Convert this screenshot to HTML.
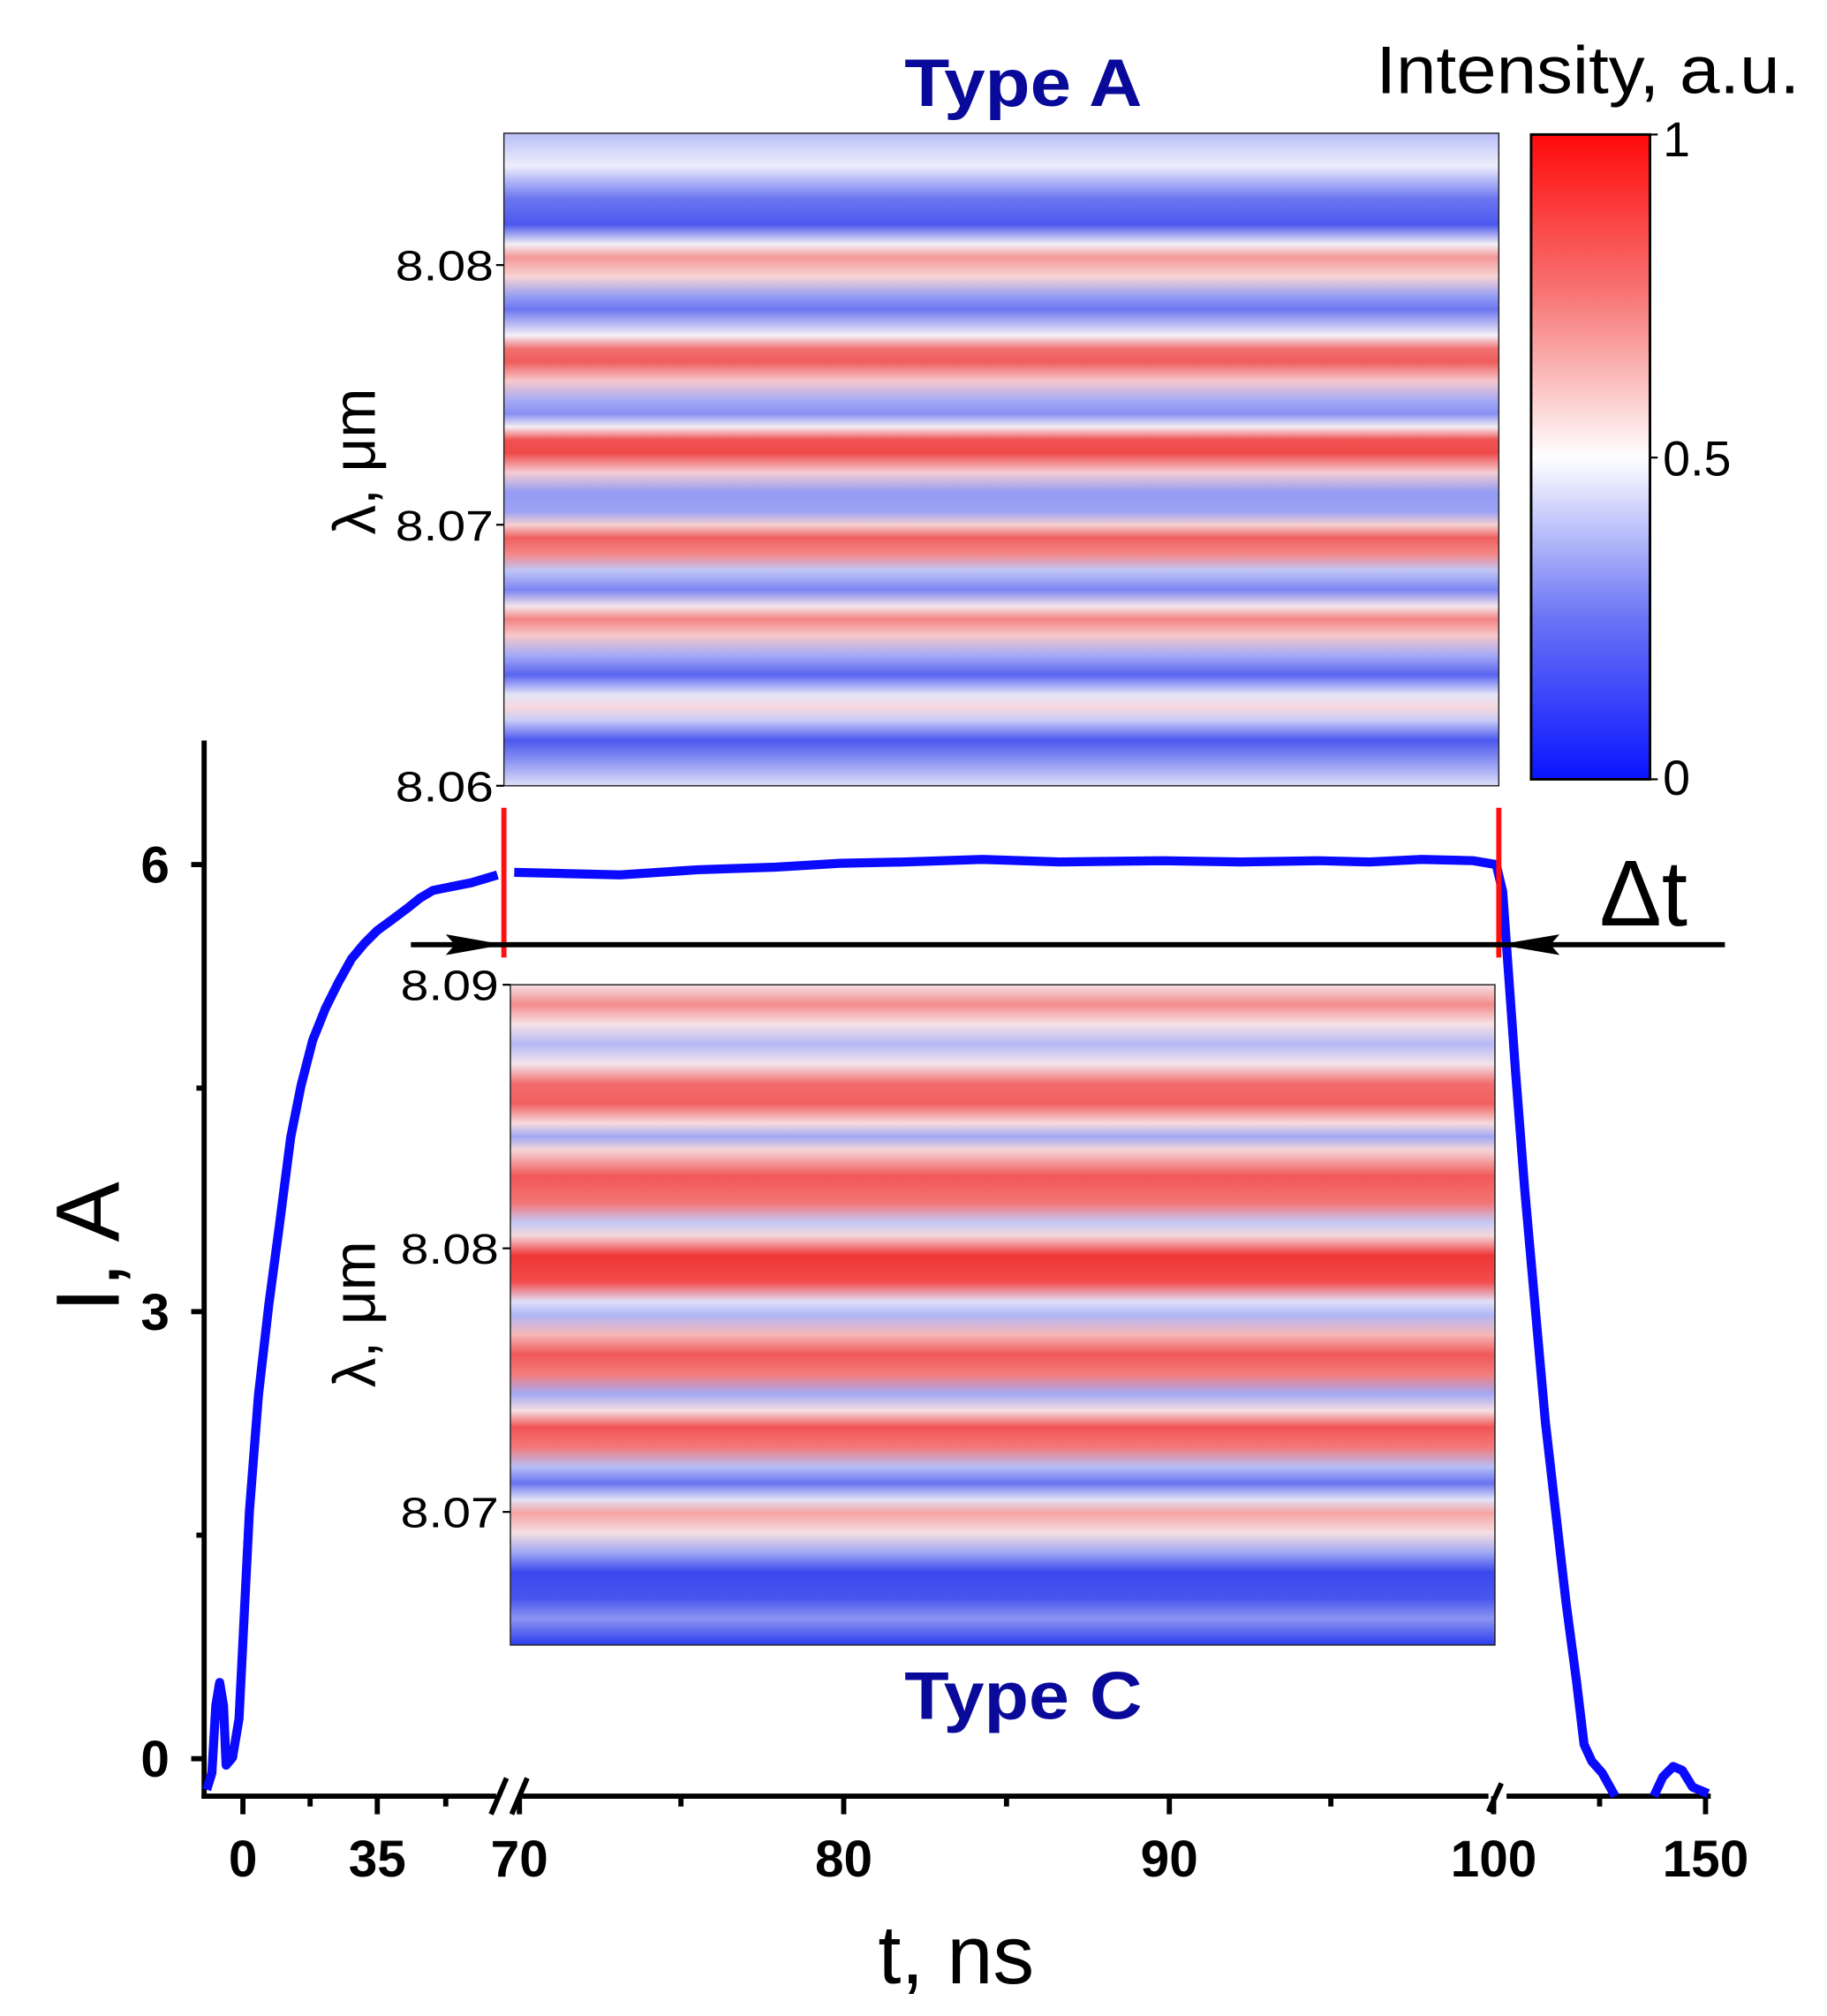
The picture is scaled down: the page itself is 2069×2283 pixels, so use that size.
<!DOCTYPE html>
<html><head><meta charset="utf-8"><style>
html,body{margin:0;padding:0;background:#fff;}
svg{display:block;}
text{font-family:"Liberation Sans",sans-serif;}
</style></head><body>
<svg width="2069" height="2283" viewBox="0 0 1414 1560" xmlns="http://www.w3.org/2000/svg">
<defs>
<linearGradient id="cb" x1="0" y1="1" x2="0" y2="0">
<stop offset="0" stop-color="#0a14ff"/><stop offset="0.25" stop-color="#6a74f4"/><stop offset="0.5" stop-color="#ffffff"/><stop offset="0.75" stop-color="#f87676"/><stop offset="1" stop-color="#ff0a0a"/>
</linearGradient>
<linearGradient id="ga" x1="0" y1="103" x2="0" y2="608" gradientUnits="userSpaceOnUse">
<stop offset="0" stop-color="#b8bef8"/>
<stop offset="0.05" stop-color="#eeeefc"/>
<stop offset="0.1" stop-color="#6c76f0"/>
<stop offset="0.14" stop-color="#4c58ee"/>
<stop offset="0.17" stop-color="#f4f0f4"/>
<stop offset="0.19" stop-color="#f49898"/>
<stop offset="0.22" stop-color="#f8d4d4"/>
<stop offset="0.25" stop-color="#949cf4"/>
<stop offset="0.27" stop-color="#6c76f0"/>
<stop offset="0.31" stop-color="#f4f0f6"/>
<stop offset="0.33" stop-color="#f27272"/>
<stop offset="0.35" stop-color="#f05c5c"/>
<stop offset="0.38" stop-color="#f6c8cc"/>
<stop offset="0.41" stop-color="#a4aaf6"/>
<stop offset="0.43" stop-color="#8890f2"/>
<stop offset="0.45" stop-color="#f4eef2"/>
<stop offset="0.47" stop-color="#f05252"/>
<stop offset="0.49" stop-color="#f04a4a"/>
<stop offset="0.52" stop-color="#f4ccd2"/>
<stop offset="0.55" stop-color="#949cf4"/>
<stop offset="0.58" stop-color="#9ca2f4"/>
<stop offset="0.6" stop-color="#f6d0d0"/>
<stop offset="0.62" stop-color="#f06060"/>
<stop offset="0.645" stop-color="#f48888"/>
<stop offset="0.67" stop-color="#c0c6f6"/>
<stop offset="0.7" stop-color="#7c84f2"/>
<stop offset="0.725" stop-color="#f4e4ea"/>
<stop offset="0.745" stop-color="#f48484"/>
<stop offset="0.77" stop-color="#f6c8c8"/>
<stop offset="0.8" stop-color="#a4aaf6"/>
<stop offset="0.83" stop-color="#5a64f0"/>
<stop offset="0.86" stop-color="#e4e4f8"/>
<stop offset="0.88" stop-color="#f6d8de"/>
<stop offset="0.9" stop-color="#c8ccf8"/>
<stop offset="0.93" stop-color="#4c58ee"/>
<stop offset="0.96" stop-color="#8890f2"/>
<stop offset="1" stop-color="#dcdef8"/>
</linearGradient>
<linearGradient id="gc" x1="0" y1="762" x2="0" y2="1273" gradientUnits="userSpaceOnUse">
<stop offset="0" stop-color="#f4e0e4"/>
<stop offset="0.03" stop-color="#f48c8c"/>
<stop offset="0.06" stop-color="#f6e2e6"/>
<stop offset="0.09" stop-color="#b4baf6"/>
<stop offset="0.12" stop-color="#f4e4ea"/>
<stop offset="0.15" stop-color="#f26c6c"/>
<stop offset="0.18" stop-color="#f26060"/>
<stop offset="0.21" stop-color="#f6dade"/>
<stop offset="0.23" stop-color="#a0a8f4"/>
<stop offset="0.25" stop-color="#f4d6d8"/>
<stop offset="0.29" stop-color="#f25858"/>
<stop offset="0.33" stop-color="#f47474"/>
<stop offset="0.36" stop-color="#c4c8f8"/>
<stop offset="0.38" stop-color="#f4d8dc"/>
<stop offset="0.41" stop-color="#f03636"/>
<stop offset="0.45" stop-color="#f24c4c"/>
<stop offset="0.48" stop-color="#e0e0f8"/>
<stop offset="0.5" stop-color="#b0b6f6"/>
<stop offset="0.53" stop-color="#f6b8b8"/>
<stop offset="0.56" stop-color="#f25858"/>
<stop offset="0.59" stop-color="#f47c7c"/>
<stop offset="0.62" stop-color="#a4aaf4"/>
<stop offset="0.645" stop-color="#f4dee2"/>
<stop offset="0.67" stop-color="#f25454"/>
<stop offset="0.7" stop-color="#f47878"/>
<stop offset="0.73" stop-color="#b8bef6"/>
<stop offset="0.755" stop-color="#6a74f0"/>
<stop offset="0.78" stop-color="#e2e2f6"/>
<stop offset="0.8" stop-color="#f6a4a4"/>
<stop offset="0.83" stop-color="#f6dee2"/>
<stop offset="0.86" stop-color="#a0a8f4"/>
<stop offset="0.89" stop-color="#3a48ee"/>
<stop offset="0.93" stop-color="#4856ee"/>
<stop offset="0.96" stop-color="#8c94f2"/>
<stop offset="1" stop-color="#2c3cee"/>
</linearGradient>
</defs>

<!-- Top heatmap -->
<rect x="390" y="103" width="770" height="505" fill="url(#ga)" stroke="#222" stroke-width="1"/>
<g stroke="#000" stroke-width="1.5">
<line x1="384" y1="205" x2="390" y2="205"/><line x1="384" y1="406" x2="390" y2="406"/><line x1="384" y1="608" x2="390" y2="608"/>
</g>
<g font-size="33" text-anchor="end" fill="#000">
<text x="382" y="217" textLength="76" lengthAdjust="spacingAndGlyphs">8.08</text><text x="382" y="418" textLength="76" lengthAdjust="spacingAndGlyphs">8.07</text><text x="382" y="620" textLength="76" lengthAdjust="spacingAndGlyphs">8.06</text>
</g>
<text transform="translate(290,357) rotate(-90)" font-size="46" text-anchor="middle">λ, μm</text>
<text x="700" y="82" font-size="52" font-weight="bold" fill="#0a0a9a" textLength="184" lengthAdjust="spacingAndGlyphs">Type A</text>
<text x="1065" y="72" font-size="52" textLength="328" lengthAdjust="spacingAndGlyphs">Intensity, a.u.</text>

<!-- Colorbar -->
<rect x="1185" y="104" width="92" height="499" fill="url(#cb)" stroke="#000" stroke-width="2"/>
<g stroke="#000" stroke-width="1.5"><line x1="1277" y1="104" x2="1283" y2="104"/><line x1="1277" y1="354" x2="1283" y2="354"/><line x1="1277" y1="603" x2="1283" y2="603"/></g>
<g font-size="38"><text x="1287" y="121">1</text><text x="1287" y="368">0.5</text><text x="1287" y="615">0</text></g>

<!-- Bottom heatmap -->
<rect x="395" y="762" width="762" height="511" fill="url(#gc)" stroke="#222" stroke-width="1"/>
<g stroke="#000" stroke-width="1.5">
<line x1="389" y1="762" x2="395" y2="762"/><line x1="389" y1="966" x2="395" y2="966"/><line x1="389" y1="1170" x2="395" y2="1170"/>
</g>
<g font-size="33" text-anchor="end"><text x="386" y="774" textLength="76" lengthAdjust="spacingAndGlyphs">8.09</text><text x="386" y="978" textLength="76" lengthAdjust="spacingAndGlyphs">8.08</text><text x="386" y="1182" textLength="76" lengthAdjust="spacingAndGlyphs">8.07</text></g>
<text transform="translate(290,1017) rotate(-90)" font-size="46" text-anchor="middle">λ, μm</text>
<text x="700" y="1330" font-size="52" font-weight="bold" fill="#0a0a9a" textLength="184" lengthAdjust="spacingAndGlyphs">Type C</text>

<!-- Main axes -->
<g stroke="#000" stroke-width="4" fill="none">
<line x1="158" y1="573" x2="158" y2="1392"/>
<line x1="156" y1="1390" x2="384" y2="1390"/>
<line x1="404" y1="1390" x2="1152" y2="1390"/>
<line x1="1166" y1="1390" x2="1324" y2="1390"/>
<line x1="148" y1="669" x2="158" y2="669"/><line x1="148" y1="1015" x2="158" y2="1015"/><line x1="148" y1="1361" x2="158" y2="1361"/>
<line x1="152" y1="842" x2="158" y2="842"/><line x1="152" y1="1188" x2="158" y2="1188"/>
<line x1="188" y1="1390" x2="188" y2="1404"/><line x1="292" y1="1390" x2="292" y2="1404"/><line x1="402" y1="1390" x2="402" y2="1404"/>
<line x1="653" y1="1390" x2="653" y2="1404"/><line x1="905" y1="1390" x2="905" y2="1404"/><line x1="1156" y1="1390" x2="1156" y2="1404"/><line x1="1320" y1="1390" x2="1320" y2="1404"/>
<line x1="240" y1="1390" x2="240" y2="1398"/><line x1="345" y1="1390" x2="345" y2="1398"/><line x1="527" y1="1390" x2="527" y2="1398"/>
<line x1="779" y1="1390" x2="779" y2="1398"/><line x1="1030" y1="1390" x2="1030" y2="1398"/><line x1="1238" y1="1390" x2="1238" y2="1398"/>
<line x1="380" y1="1404" x2="392" y2="1376"/><line x1="396" y1="1404" x2="408" y2="1376"/>
<line x1="1152" y1="1402" x2="1162" y2="1380"/>
</g>
<g font-size="40" font-weight="bold" text-anchor="middle">
<text x="120" y="683">6</text><text x="120" y="1029">3</text><text x="120" y="1375">0</text>
<text x="188" y="1452">0</text><text x="292" y="1452">35</text><text x="402" y="1452">70</text>
<text x="653" y="1452">80</text><text x="905" y="1452">90</text><text x="1156" y="1452">100</text><text x="1320" y="1452">150</text>
</g>
<text x="740" y="1535" font-size="64" text-anchor="middle">t, ns</text>
<text transform="translate(92,965) rotate(-90)" font-size="70" text-anchor="middle">I, A</text>

<!-- Curve -->
<path d="M160,1385 L164,1372 L167,1320 L170,1302 L173,1320 L175,1366 L180,1360 L185,1330 L189,1250 L193,1170 L200,1080 L208,1010 L216,950 L225,880 L233,840 L242,805 L252,780 L262,760 L272,742 L282,730 L292,720 L303,712 L315,703 L325,695 L335,689 L350,686 L365,683 L385,677" fill="none" stroke="#0a0aff" stroke-width="7" stroke-linejoin="round"/>
<path d="M398,675 L440,676 L480,677 L540,673 L600,671 L650,668 L700,667 L760,665 L820,667 L900,666 L960,667 L1020,666 L1060,667 L1100,665 L1140,666 L1158,669 L1163,690 L1168,760 L1173,830 L1180,920 L1188,1010 L1196,1100 L1204,1170 L1212,1240 L1220,1300 L1226,1350 L1232,1363 L1240,1372 L1250,1390" fill="none" stroke="#0a0aff" stroke-width="7" stroke-linejoin="round"/>
<path d="M1280,1390 L1287,1375 L1295,1367 L1302,1370 L1310,1383 L1322,1388" fill="none" stroke="#0a0aff" stroke-width="7" stroke-linejoin="round"/>

<!-- Red lines and arrow -->
<g stroke="#ff1010" stroke-width="4"><line x1="390" y1="625" x2="390" y2="741"/><line x1="1160" y1="625" x2="1160" y2="741"/></g>
<line x1="318" y1="731" x2="1335" y2="731" stroke="#000" stroke-width="4"/>
<polygon points="390,731 345,723 352,731 345,739" fill="#000"/>
<polygon points="1160,731 1207,723 1200,731 1207,739" fill="#000"/>
<text x="1272" y="716" font-size="72" text-anchor="middle">Δt</text>
</svg>
</body></html>
